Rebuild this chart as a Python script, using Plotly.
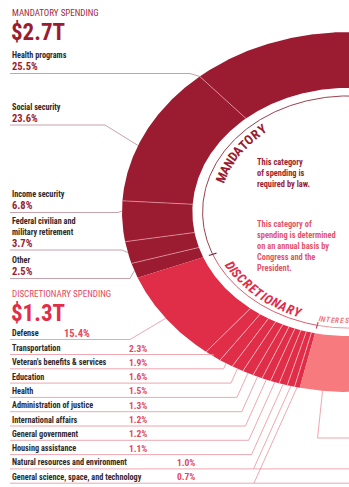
import numpy as np
import plotly.graph_objects as go

# ---------------- data ----------------
mand_labels = ["Health programs", "Social security", "Income security",
               "Federal civilian and<br>military retirement", "Other"]
mand_values = [25.5, 23.6, 6.8, 3.7, 2.5]

disc_labels = ["Defense", "Transportation", "Veteran's benefits & services", "Education",
               "Health", "Administration of justice", "International affairs",
               "General government", "Housing assistance",
               "Natural resources and environment",
               "General science, space, and technology"]
disc_values = [15.4, 2.3, 1.9, 1.6, 1.5, 1.3, 1.2, 1.2, 1.1, 1.0, 0.7]

interest_value = 8.7

mand_title, mand_total = "MANDATORY SPENDING", "$2.7T"
disc_title, disc_total = "DISCRETIONARY SPENDING", "$1.3T"
mand_note = "This category<br>of spending is<br>required by law."
disc_note = "This category of<br>spending is determined<br>on an annual basis by<br>Congress and the<br>President."

# ---------------- layout / style ----------------
W, H = 349, 487
CX, CY = 349, 212          # ring centre (pixels)
AX, BY = 227, 180          # outer semi-axes
RHO_IN = 0.69              # inner edge ratio
RHO_ARC = 0.645            # thin guide arc
K = 1.92                   # degrees per percent
SPLIT = 201.4              # mandatory / discretionary boundary angle

C_MAND = "#9b1c31"
C_DISC = "#e02d48"
C_INT = "#f77b7e"
C_NAME = "#2e2a2b"
C_MAND_LINE = "#b98a94"
C_DISC_LINE = "#e8909d"
FONT = "Liberation Sans Narrow, Roboto Condensed, DejaVu Sans Condensed, Arial Narrow, sans-serif"

mand_name_y = [55, 106.5, 194, 222, 260]
mand_elbow_x = [190, 105, 118, 122, 130]
mand_attach = [1.0, 0.6, 0.25, 0.5, 0.5]

disc_name_y = [333, 348, 362.3, 376.6, 390.9, 405.2, 419.5, 433.8, 448.1, 462.4, 476.7]
disc_pct_x = [63, 128, 128, 128, 128, 128, 128, 128, 128, 176, 176]
disc_full_line = [False] * 9 + [True, True]


def pt(phi, rho):
    r = np.radians(phi)
    return CX + AX * rho * np.cos(r), CY - BY * rho * np.sin(r)


fig = go.Figure()
ann = []


def txt(x, y, s, size, color, weight=700, xanchor="left", yanchor="middle",
        angle=0, style="normal"):
    ann.append(dict(x=x, y=y, xref="x", yref="y", text=s, showarrow=False,
                    xanchor=xanchor, yanchor=yanchor, textangle=angle,
                    align="left", borderpad=0,
                    font=dict(family=FONT, size=size, color=color,
                              weight=weight, style=style)))


def line(xs, ys, color, width=0.8):
    fig.add_trace(go.Scatter(x=xs, y=ys, mode="lines", hoverinfo="skip",
                             line=dict(color=color, width=width), showlegend=False))


# ---------------- slices ----------------
slices = []
a = SPLIT - sum(mand_values) * K
for lab, v in zip(mand_labels, mand_values):
    slices.append((lab, v, a, a + v * K, C_MAND, "m"))
    a += v * K
for lab, v in zip(disc_labels, disc_values):
    slices.append((lab, v, a, a + v * K, C_DISC, "d"))
    a += v * K
slices.append(("Interest", interest_value, a, a + interest_value * K, C_INT, "i"))

for lab, v, a0, a1, col, g in slices:
    ph = np.linspace(a0, a1, max(int((a1 - a0) * 3) + 2, 4))
    xo, yo = pt(ph, 1.0)
    xi, yi = pt(ph[::-1], RHO_IN)
    fig.add_trace(go.Scatter(x=np.r_[xo, xi, xo[0]], y=np.r_[yo, yi, yo[0]],
                             fill="toself", fillcolor=col, mode="lines",
                             line=dict(width=0), hoveron="fills",
                             name=f"{lab.replace('<br>', ' ')}: {v}%",
                             showlegend=False))

# separators inside each group
for i in range(1, len(slices)):
    if slices[i][5] == slices[i - 1][5]:
        b = slices[i][2]
        x0, y0 = pt(b, RHO_IN)
        x1, y1 = pt(b, 1.0)
        col = "rgba(235,160,175,0.85)" if slices[i][5] == "m" else "rgba(255,205,212,0.9)"
        line([x0, x1], [y0, y1], col, 0.8)

# thin guide arcs + ticks
m_start = slices[0][2]
d_start = SPLIT
i_start = slices[-1][2]
i_end = slices[-1][3] + 10
for a0, a1, col in [(m_start - 5, d_start, "#8e2a3b"), (d_start, i_start, "#d9475c"),
                    (i_start, i_end, "#f08a8e")]:
    ph = np.linspace(a0, a1, 200)
    xs, ys = pt(ph, RHO_ARC)
    line(xs, ys, col, 0.9)
for b, col in [(d_start, "#7d2a38"), (i_start, "#c8485a")]:
    x0, y0 = pt(b, RHO_ARC - 0.018)
    x1, y1 = pt(b, RHO_ARC + 0.018)
    line([x0, x1], [y0, y1], col, 1.2)


# ---------------- curved ring captions ----------------
def char_w(ch):
    return {"I": 0.45, "M": 1.25, "W": 1.25}.get(ch, 1.0)


def arc_text(word, phi0, phi1, rho, size, color, direction, style="normal"):
    ws = np.array([char_w(c) for c in word])
    centers = np.cumsum(ws) - ws / 2
    centers = (centers - centers[0]) / (centers[-1] - centers[0])
    for ch, f in zip(word, centers):
        ph = phi0 + (phi1 - phi0) * f
        x, y = pt(ph, rho)
        r = np.radians(ph)
        if direction == "cw":
            ang = np.degrees(np.arctan2(BY * np.cos(r), AX * np.sin(r)))
        else:
            ang = np.degrees(np.arctan2(-BY * np.cos(r), -AX * np.sin(r)))
        txt(x, y, ch, size, color, xanchor="center", yanchor="middle",
            angle=ang, style=style)


arc_text("MANDATORY", 161.0, 130.0, 0.595, 13, C_MAND, "cw")
arc_text("DISCRETIONARY", 209.5, 248.0, 0.6, 13, C_DISC, "ccw", style="italic")
arc_text("INTEREST", 258.0, 271.0, 0.605, 7.5, "#f07a82", "ccw", style="italic")

# inner notes
txt(256, 172.5, mand_note, 8.4, C_MAND)
txt(256, 245.5, disc_note, 8.4, "#e2566b")

# ---------------- mandatory labels ----------------
txt(11, 12.5, mand_title, 9, "#a3293b", weight=400)
txt(10, 32, mand_total, 23, C_MAND)
for k, (lab, v) in enumerate(zip(mand_labels, mand_values)):
    y = mand_name_y[k]
    nlines = lab.count("<br>") + 1
    txt(11, y + (nlines - 1) * 4.75, lab, 8.2, C_NAME)
    py = y + (nlines - 1) * 9.5 + 11.5
    txt(11, py, f"{v}%", 10.5, C_MAND)
    uy = py + 7
    s = slices[k]
    xr, yr = pt(s[2] + (s[3] - s[2]) * mand_attach[k], 1.0)
    line([10, mand_elbow_x[k], xr], [uy, uy, yr], C_MAND_LINE, 0.8)

# ---------------- discretionary labels ----------------
txt(11, 293.5, disc_title, 9, "#e5485d", weight=400)
txt(10, 313, disc_total, 23, C_DISC)
for k, (lab, v) in enumerate(zip(disc_labels, disc_values)):
    y = disc_name_y[k]
    txt(11, y, lab, 8.2, C_NAME)
    txt(disc_pct_x[k], y, f"{v}%", 10.5 if k == 0 else 9.5, "#e5485d")
    uy = y + 6.5
    s = slices[len(mand_values) + k]
    xr, yr = pt((s[2] + s[3]) / 2, 1.0)
    ex = 130 if k == 0 else xr - (uy - yr) * 0.45
    line([10, ex, xr], [uy, uy, yr], C_DISC_LINE, 0.8)
    if disc_full_line[k]:
        line([ex, W], [uy, uy], C_DISC_LINE, 0.8)

# interest leader (continues off the right edge)
s = slices[-1]
xr, yr = pt(s[2] + (s[3] - s[2]) * 0.35, 1.0)
line([xr, xr - 5, W], [yr, 438, 438], C_DISC_LINE, 0.8)

fig.update_layout(
    width=W, height=H, margin=dict(l=0, r=0, t=0, b=0),
    paper_bgcolor="white", plot_bgcolor="white",
    xaxis=dict(range=[0, W], visible=False, fixedrange=True),
    yaxis=dict(range=[H, 0], visible=False, fixedrange=True),
    showlegend=False, annotations=ann,
)
fig.write_html("out.html", config={"displayModeBar": False},
               post_script="document.body.style.margin='0';document.body.style.overflow='hidden';")
